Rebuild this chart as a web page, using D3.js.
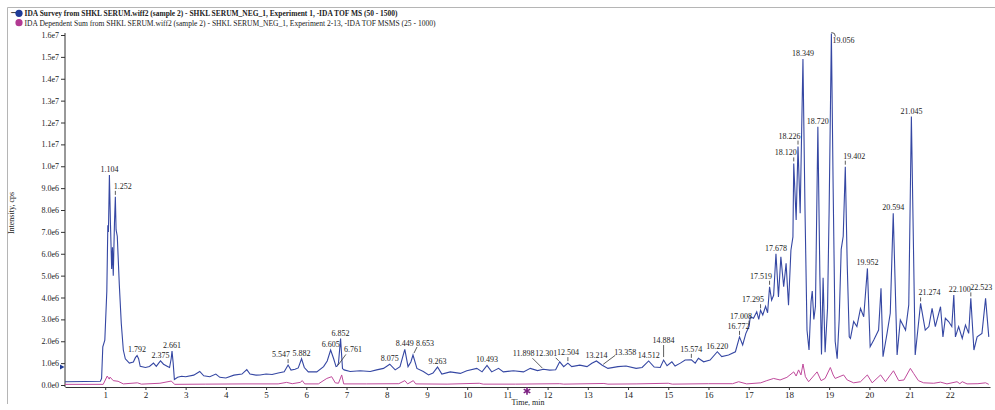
<!DOCTYPE html>
<html>
<head>
<meta charset="utf-8">
<script src="https://cdn.jsdelivr.net/npm/d3@7"></script>
<style>
body{margin:0;background:#fff}
svg text{font-family:"Liberation Serif","Times New Roman",serif;fill:#222}
</style>
</head>
<body>
<script>
// survey trace (TOF MS), time in min, intensity in 1e6 cps
var surveyTime=[0,0.5,0.88,0.91,0.94,0.99,1.04,1.065,1.08,1.104,1.13,1.16,1.18,1.2,1.23,1.252,1.27,1.3,1.35,1.4,1.45,1.5,1.6,1.7,1.75,1.792,1.83,1.87,2.0,2.1,2.2,2.27,2.33,2.375,2.45,2.55,2.6,2.64,2.661,2.69,2.72,2.8,2.9,3.0,3.2,3.35,3.45,3.6,3.75,3.85,4.0,4.2,4.4,4.52,4.6,4.75,4.85,5.0,5.15,5.3,5.45,5.547,5.62,5.72,5.8,5.882,5.95,6.05,6.26,6.43,6.52,6.605,6.68,6.74,6.761,6.8,6.852,6.9,6.94,7.09,7.34,7.59,7.75,7.92,8.075,8.21,8.33,8.449,8.53,8.6,8.653,8.75,8.91,9.04,9.15,9.263,9.37,9.58,9.83,9.99,10.24,10.37,10.493,10.61,10.78,10.9,11.15,11.4,11.57,11.75,11.898,12.05,12.2,12.301,12.4,12.504,12.6,12.8,12.98,13.1,13.214,13.358,13.5,13.75,13.95,14.2,14.35,14.512,14.65,14.8,14.884,14.97,15.09,15.17,15.3,15.42,15.574,15.67,15.75,15.88,16.04,16.22,16.33,16.5,16.67,16.772,16.85,16.93,17.008,17.04,17.12,17.2,17.25,17.295,17.35,17.42,17.47,17.519,17.57,17.62,17.678,17.74,17.8,17.87,17.93,17.99,18.05,18.1,18.12,18.18,18.226,18.28,18.349,18.4,18.45,18.5,18.55,18.58,18.62,18.66,18.72,18.77,18.81,18.85,18.9,18.96,19.0,19.056,19.1,19.15,19.2,19.25,19.3,19.35,19.402,19.45,19.5,19.53,19.61,19.69,19.78,19.86,19.952,20.02,20.11,20.23,20.29,20.34,20.44,20.52,20.594,20.69,20.77,20.9,20.98,21.045,21.14,21.274,21.39,21.48,21.56,21.64,21.77,21.83,21.89,21.97,22.05,22.1,22.14,22.22,22.31,22.39,22.47,22.523,22.6,22.68,22.8,22.89,22.97]
var surveyIntensity=[0.15,0.16,0.17,0.3,1.75,2.05,4.3,7.3,7.0,9.6,7.4,5.3,6.3,5.0,7.4,8.6,7.1,6.8,4.6,2.8,1.6,1.2,1.0,1.05,1.25,1.35,1.2,0.85,0.8,0.85,1.0,0.85,1.0,1.1,0.95,0.85,0.8,1.2,1.55,1.0,0.25,0.35,0.4,0.38,0.45,0.62,0.42,0.38,0.5,0.35,0.32,0.45,0.5,0.7,0.5,0.45,0.46,0.5,0.48,0.55,0.6,0.91,0.68,0.72,0.78,1.2,0.8,0.6,0.6,0.84,1.1,1.6,1.2,0.84,0.85,1.0,2.12,0.75,0.69,0.62,0.65,0.62,0.69,0.76,0.95,0.69,0.84,1.63,0.84,1.05,1.37,0.76,0.62,0.46,0.55,0.82,0.5,0.6,0.53,0.65,0.76,0.6,0.9,0.6,0.76,0.6,0.65,0.6,0.76,0.66,0.72,0.68,0.7,1.06,0.84,1.0,0.84,0.91,0.84,0.99,1.1,0.9,0.76,0.84,0.87,0.76,0.8,1.1,0.82,0.8,1.14,0.88,1.06,0.87,1.0,1.14,1.15,1.0,1.22,1.06,1.14,1.52,1.3,1.37,1.52,2.2,1.83,2.36,2.67,3.12,3.05,3.35,3.0,3.42,3.2,3.6,3.3,4.49,3.88,4.1,6.0,4.03,5.86,4.49,5.56,3.65,6.16,6.77,10.13,7.54,10.9,7.85,14.9,8.0,2.5,1.6,3.8,4.3,3.0,3.6,11.8,5.0,1.4,4.9,1.5,3.5,8.0,16.07,9.0,2.0,1.2,3.0,6.2,6.8,9.98,5.5,2.2,2.13,2.9,2.67,3.5,3.12,5.33,1.75,2.06,2.51,4.42,1.29,2.36,3.28,7.85,1.37,2.97,2.51,3.66,12.27,1.37,3.73,2.51,2.67,3.5,2.67,3.58,2.2,3.05,2.9,2.67,4.11,2.2,2.67,2.13,2.74,2.36,3.96,1.6,2.2,2.36,3.96,2.2]

// dependent sum trace (TOF MSMS)
var dependentTime=[0,0.95,1.05,1.1,1.12,1.2,1.32,1.45,1.8,1.9,2.36,2.64,2.73,3.5,4.5,5.3,5.51,5.65,5.85,5.9,5.96,6.3,6.51,6.63,6.72,6.8,6.88,6.93,7.5,8.3,8.45,8.52,8.66,8.72,9.5,10.3,10.4,11.2,12.3,12.4,13.4,13.5,14.2,15.0,15.1,16.0,16.6,16.75,16.95,17.3,17.45,17.62,17.78,17.95,18.12,18.18,18.24,18.3,18.35,18.41,18.49,18.7,18.8,18.9,19.03,19.1,19.15,19.36,19.45,19.61,19.78,19.95,20.07,20.28,20.4,20.6,20.73,20.86,21.02,21.1,21.22,21.35,21.6,21.77,21.93,22.18,22.25,22.31,22.43,22.7,22.89,22.97]
var dependentIntensity=[0.03,0.03,0.41,0.27,0.36,0.2,0.17,0.05,0.1,0.04,0.08,0.18,0.03,0.04,0.05,0.05,0.12,0.06,0.12,0.2,0.05,0.05,0.3,0.38,0.1,0.08,0.46,0.05,0.05,0.06,0.2,0.05,0.2,0.05,0.04,0.08,0.04,0.04,0.06,0.04,0.07,0.04,0.05,0.08,0.04,0.06,0.06,0.15,0.05,0.1,0.2,0.3,0.23,0.35,0.6,0.41,0.69,0.46,0.96,0.38,0.15,0.6,0.2,0.3,0.8,0.46,0.3,0.46,0.23,0.1,0.15,0.46,0.1,0.46,0.15,0.65,0.2,0.23,0.76,0.53,0.2,0.1,0.08,0.13,0.05,0.15,0.06,0.15,0.05,0.06,0.1,0.03]

// labelled peaks
var peakLabels=["1.104","1.252","1.792","2.375","2.661","5.547","5.882","6.605","6.761","6.852","8.075","8.449","8.653","9.263","10.493","11.898","12.301","12.504","13.214","13.358","14.512","14.884","15.574","16.220","16.772","17.008","17.295","17.519","17.678","18.120","18.226","18.349","18.720","19.056","19.402","19.952","20.594","21.045","21.274","22.100","22.523"]

var timeTicks=[1,2,3,4,5,6,7,8,9,10,11,12,13,14,15,16,17,18,19,20,21,22]
var intensityTicks=[0,1e6,2e6,3e6,4e6,5e6,6e6,7e6,8e6,9e6,1e7,1.1e7,1.2e7,1.3e7,1.4e7,1.5e7,1.6e7]
var intensityTickLabels=["0.0e0","1.0e6","2.0e6","3.0e6","4.0e6","5.0e6","6.0e6","7.0e6","8.0e6","9.0e6","1.0e7","1.1e7","1.2e7","1.3e7","1.4e7","1.5e7","1.6e7"]

var legendNames=["IDA Survey from SHKL SERUM.wiff2 (sample 2) - SHKL SERUM_NEG_1, Experiment 1, -IDA TOF MS (50 - 1500)",
  "IDA Dependent Sum from SHKL SERUM.wiff2 (sample 2) - SHKL SERUM_NEG_1, Experiment 2-13, -IDA TOF MSMS (25 - 1000)"]


// label placement: anchor, dx, dy, leader polyline (relative to peak)
var tickLead=[0,-2,0,-6]
var labelLayout={
  "1.252":{a:"start",dx:-1.5,dy:-8,l:tickLead},
  "5.547":{a:"end",dx:2,dy:-8,l:tickLead},
  "6.761":{a:"start",dx:7,dy:-14,l:[1,-1,9,-12]},
  "8.653":{a:"start",dx:3,dy:-9,l:[1,-2,4,-8]},
  "11.898":{a:"end",dx:-9,dy:-13,l:[-1,-1,-11,-11]},
  "12.301":{a:"end",dx:-2.5,dy:-5.5,l:[-1,-1,-4,-4]},
  "12.504":{a:"middle",dx:0,dy:-8,l:tickLead},
  "13.358":{a:"start",dx:12,dy:-10.5,l:[1,-1,13,-10]},
  "14.884":{a:"middle",dx:0,dy:-17,l:[0,-3,0,-15]},
  "15.574":{a:"middle",dx:0,dy:-8,l:tickLead},
  "16.772":{a:"middle",dx:-1,dy:-8,l:tickLead},
  "17.008":{a:"end",dx:3,dy:-8,l:tickLead},
  "17.295":{a:"end",dx:3.5,dy:-8,l:tickLead},
  "17.519":{a:"end",dx:2.5,dy:-8,l:tickLead},
  "18.120":{a:"end",dx:3,dy:-8,l:tickLead},
  "18.226":{a:"end",dx:2.5,dy:-8,l:tickLead},
  "19.056":{a:"start",dx:1,dy:10,l:[0,-1,3,0,4,3]},
  "19.402":{a:"start",dx:-2,dy:-8,l:tickLead},
  "21.274":{a:"start",dx:-2,dy:-8,l:tickLead},
  "22.100":{a:"start",dx:-5,dy:-3},
  "22.523":{a:"start",dx:-0.5,dy:-8,l:tickLead}
}

var screen={width:995,height:410}
var svg=d3.select('body').append('svg')
  .attr('width',screen.width)
  .attr('height',screen.height)

var x=d3.scaleLinear().domain([0,23]).range([65,990])
var y=d3.scaleLinear().domain([0,16e6]).range([385,35])

var survey=surveyTime.map(function(t,i){return {t:t,v:surveyIntensity[i]*1e6}})
var dependent=dependentTime.map(function(t,i){return {t:t,v:dependentIntensity[i]*1e6}})

// frame
svg.append('path')
  .attr('d','M7.5,404V7.5H995')
  .attr('fill','none')
  .attr('stroke','#b5b5b5')

// legend
svg.append('text').attr('x',10).attr('y',16).style('font-size','10px').style('font-family','DejaVu Sans').text('\u2212')
var legendColors=['#1f3b97','#b23a92']
legendNames.forEach(function(n,i){
  svg.append('circle').attr('cx',19).attr('cy',13.3+i*9.4).attr('r',3.6).attr('fill',legendColors[i])
  svg.append('text').attr('x',24.5).attr('y',16.2+i*9.4)
    .style('font-size','8.5px')
    .style('font-weight',i==0?'bold':'normal')
    .attr('textLength',i==0?373:411)
    .attr('lengthAdjust','spacingAndGlyphs')
    .text(n)
})

// y axis
var yAxis=d3.axisLeft(y).tickValues(intensityTicks)
  .tickFormat(function(d,i){return intensityTickLabels[i]})
  .tickSize(4).tickSizeOuter(0).tickPadding(2)
var gy=svg.append('g').attr('transform','translate(65,0)').call(yAxis)
gy.select('.domain').remove()
gy.selectAll('text').style('font-size','8px').style('font-family','"Liberation Serif",serif').attr('fill','#222')
gy.selectAll('line').attr('stroke','#333')
svg.append('line').attr('x1',65).attr('x2',65).attr('y1',33).attr('y2',387).attr('stroke','#333')

// x axis
var xAxis=d3.axisBottom(x).tickValues(timeTicks).tickSize(3).tickSizeOuter(0).tickPadding(2)
var gx=svg.append('g').attr('transform','translate(0,387)').call(xAxis)
gx.select('.domain').attr('stroke','#333')
gx.selectAll('line').attr('stroke','#333')
gx.selectAll('text').style('font-size','9px').style('font-family','"Liberation Serif",serif').attr('fill','#222')

svg.append('text').attr('transform','translate(14,213) rotate(-90)')
  .attr('text-anchor','middle').style('font-size','8px').text('Intensity, cps')
svg.append('text').attr('x',528).attr('y',405)
  .attr('text-anchor','middle').style('font-size','8px').text('Time, min')

// traces
var line=d3.line().x(function(d){return x(d.t)}).y(function(d){return y(d.v)})
svg.append('path').datum(dependent).attr('d',line)
  .attr('fill','none').attr('stroke','#c04a9c').attr('stroke-width',1)
svg.append('path').datum(survey).attr('d',line)
  .attr('fill','none').attr('stroke','#3547a3').attr('stroke-width',1.1)

// peak labels
var bis=d3.bisector(function(d){return d.t}).left
function valueAt(t){
  var i=bis(survey,t)
  if(i<=0) return survey[0].v
  if(i>=survey.length) return survey[survey.length-1].v
  var a=survey[i-1],b=survey[i]
  return a.v+(b.v-a.v)*(t-a.t)/(b.t-a.t)
}
var lab=svg.append('g').attr('class','peaks')
peakLabels.forEach(function(s){
  var t=+s
  var px=x(t), py=y(valueAt(t))
  var o=labelLayout[s]||{a:'middle',dx:0,dy:-3}
  if(o.l){
    var pts=[]
    for(var k=0;k<o.l.length;k+=2) pts.push([px+o.l[k],py+o.l[k+1]])
    lab.append('path').attr('d',d3.line()(pts)).attr('fill','none').attr('stroke','#333').attr('stroke-width',0.8)
  }
  lab.append('text').attr('x',px+o.dx).attr('y',py+o.dy)
    .attr('text-anchor',o.a).style('font-size','8px').text(s)
})

// markers
svg.append('path').attr('d','M60,364.5L64.5,367L60,369.5Z').attr('fill','#1f3b97')
svg.append('path').attr('transform','translate(527,391)')
  .attr('d',d3.symbol(d3.symbolAsterisk,40)())
  .attr('fill','none').attr('stroke','#7b1f80').attr('stroke-width',1.6)
</script>
</body>
</html>
